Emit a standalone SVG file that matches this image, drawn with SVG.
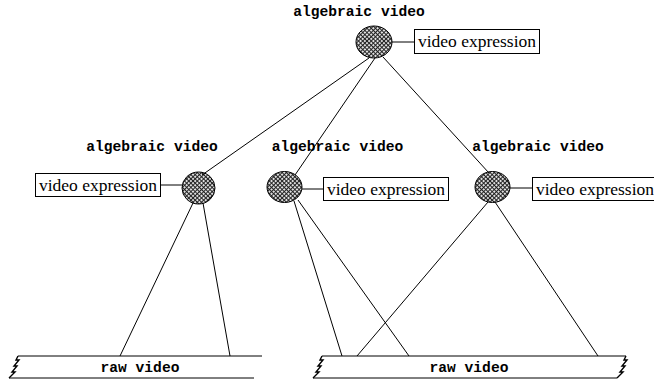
<svg xmlns="http://www.w3.org/2000/svg" width="654" height="381" viewBox="0 0 654 381">
<style>
.lbl{font-family:"Liberation Mono","DejaVu Sans Mono",monospace;font-weight:bold;font-size:14.6px;text-anchor:middle;fill:#000}
.exp{font-family:"Liberation Serif","Times New Roman",serif;font-size:17.5px;text-anchor:middle;fill:#000}
.box{fill:#fff;stroke:#000;stroke-width:1}
.node{fill:url(#hatch);stroke:#000;stroke-width:1}
.ln{stroke:#000;stroke-width:1;fill:none}
.bar{stroke:#000;stroke-width:1;fill:none}
.zig{stroke:#000;stroke-width:1.4;fill:none;stroke-linejoin:miter}
</style>
<defs>
<pattern id="hatch" width="3" height="3" patternUnits="userSpaceOnUse" patternTransform="rotate(45)">
<rect width="3" height="3" fill="#e0e0e0"/>
<line x1="0" y1="0.5" x2="3" y2="0.5" stroke="#222" stroke-width="1"/>
<line x1="0.5" y1="0" x2="0.5" y2="3" stroke="#222" stroke-width="1"/>
</pattern>
<path id="zz" d="M0,0 L-2,4 L1,4 L-4,10 L-1,10 L-6,16 L-3,16 L-9,22"/>
</defs>
<rect width="654" height="381" fill="#fff"/>
<g id="connectors">
<line class="ln" x1="392" y1="42" x2="414" y2="42"/>
<line class="ln" x1="160" y1="185" x2="182" y2="185"/>
<line class="ln" x1="302" y1="189" x2="323" y2="189"/>
<line class="ln" x1="510" y1="188" x2="532" y2="188"/>
<line class="ln" x1="193" y1="203" x2="120" y2="356"/>
<line class="ln" x1="203" y1="203" x2="230" y2="356"/>
<line class="ln" x1="294" y1="201" x2="342" y2="356"/>
<line class="ln" x1="298" y1="200" x2="409" y2="356"/>
<line class="ln" x1="488" y1="202" x2="357" y2="356"/>
<line class="ln" x1="495" y1="202" x2="598" y2="356"/>
</g>
<g id="raw-video-left">
<line class="bar" x1="18" y1="356" x2="262" y2="356"/>
<line class="bar" x1="9" y1="378" x2="254" y2="378"/>
<use href="#zz" class="zig" x="18" y="356"/>
<text class="lbl" x="140" y="372">raw video</text>
</g>
<g id="raw-video-right">
<line class="bar" x1="322" y1="356" x2="626" y2="356"/>
<line class="bar" x1="313" y1="378" x2="617" y2="378"/>
<use href="#zz" class="zig" x="322" y="356"/>
<use href="#zz" class="zig" x="626" y="356"/>
<text class="lbl" x="469" y="372">raw video</text>
</g>
<g id="node-left">
<text class="lbl" x="152" y="151">algebraic video</text>
<ellipse class="node" cx="198.5" cy="188" rx="16.5" ry="16"/>
<rect class="box" x="35.5" y="173.5" width="125" height="23"/>
<text class="exp" x="98" y="191">video expression</text>
</g>
<g id="node-middle">
<text class="lbl" x="337.5" y="151">algebraic video</text>
<ellipse class="node" cx="284.5" cy="187" rx="17.5" ry="15.5"/>
<rect class="box" x="323.5" y="177.5" width="125" height="23"/>
<text class="exp" x="386" y="195">video expression</text>
</g>
<g id="node-right">
<text class="lbl" x="538" y="151">algebraic video</text>
<ellipse class="node" cx="492.5" cy="187" rx="17.5" ry="15.5"/>
<rect class="box" x="532.5" y="177.5" width="125" height="23"/>
<text class="exp" x="595" y="195">video expression</text>
</g>
<g id="edges-top">
<line class="ln" x1="369" y1="58" x2="202" y2="175"/>
<line class="ln" x1="375" y1="58" x2="295" y2="175"/>
<line class="ln" x1="383" y1="57" x2="489" y2="173"/>
</g>
<g id="node-top">
<text class="lbl" x="359" y="16">algebraic video</text>
<ellipse class="node" cx="374" cy="42" rx="18" ry="16"/>
<rect class="box" x="414.5" y="29.5" width="125" height="24"/>
<text class="exp" x="477" y="47">video expression</text>
</g>
</svg>
